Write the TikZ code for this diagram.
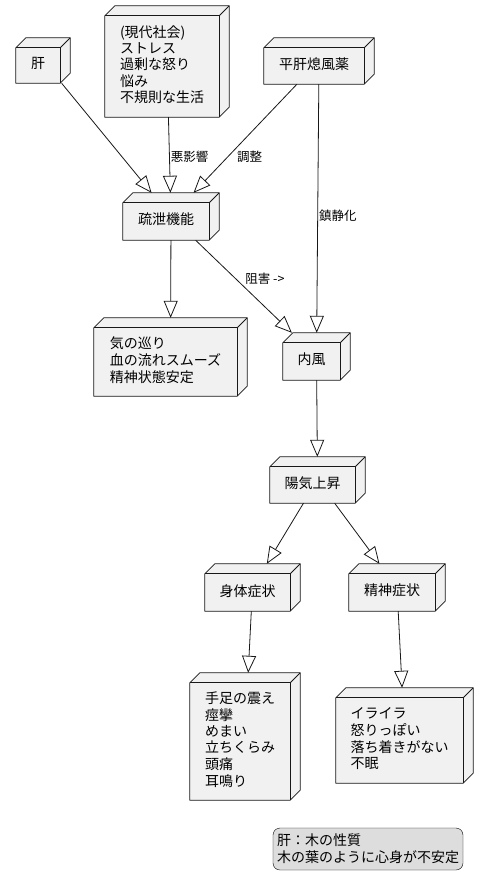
\documentclass[tikz,border=0pt]{standalone}
\usepackage{fontspec}
\setmainfont{Noto Sans CJK JP}
\usepackage{tikz}
\usetikzlibrary{arrows.meta, backgrounds, positioning}
\definecolor{facegray}{HTML}{F1F1F1}
\definecolor{linegray}{HTML}{181818}
\definecolor{legendgray}{HTML}{DDDDDD}
\newcommand{\boxtextfont}{\fontsize{14}{16}\selectfont}
\newcommand{\edgetextfont}{\fontsize{12.5}{14}\selectfont}
\newcommand{\facetext}[1]{\raisebox{-5pt}[\height][\depth]{\hspace*{-5pt}\begin{tabular}{@{}l@{}}#1\end{tabular}\hspace*{5pt}}}
\tikzset{
    boxnode/.style = {rectangle, inner sep=0em, node distance=0em, font=\boxtextfont},
    facepath/.style = {draw=linegray, fill=facegray, line width=0.8pt, line join=round},
    legendnode/.style = {draw=black, fill=legendgray, rectangle, rounded corners=7pt, inner xsep=3pt, 
      inner ysep=0pt, align=left, node distance=0em, font=\fontsize{14}{17}\selectfont},
    edgelabel/.style = {draw=none, fill=none, anchor=west, inner sep=1pt, font=\edgetextfont},
    connect/.style = {draw=linegray, line width=0.8pt, -{Triangle[open, length=17pt, width=14pt]}}
}

\begin{document}
\begin{tikzpicture}[x=1pt, y=-1pt, node distance=0em]
\useasboundingbox (0,0) rectangle (488,889);

\node[boxnode, name=liver, minimum width=54, minimum height=45] at (43,60.5) {\facetext{肝}};
\node[boxnode, name=society, right of = liver, xshift=124, yshift=-1, minimum width=124, minimum height=111] 
	{\facetext{(現代社会)\\ストレス\\過剰な怒り\\悩み\\不規則な生活}};
\node[boxnode, name=herb, right of = society, xshift=152, yshift=0.5, minimum width=110, minimum height=46] 
	{\facetext{平肝熄風薬}};

\node[boxnode, name=sooth, below of = society, xshift=4, yshift=-155, minimum width=96, minimum height=47] 
	{\facetext{疏泄機能}};
\node[boxnode, name=flow, below of = sooth, xshift=-0.5, yshift=-140.5, minimum width=153, minimum height=78] 
	{\facetext{気の巡り\\血の流れスムーズ\\精神状態安定}};
\node[boxnode, name=wind, below of = herb, xshift=-2.5, yshift=-295.5, minimum width=67, minimum height=47] 
	{\facetext{内風}};
\node[boxnode, name=yang, below of = wind, xshift=1, yshift=-123.5, minimum width=95, minimum height=46] 
	{\facetext{陽気上昇}};

\node[boxnode, name=body, below of = yang, xshift=-65, yshift=-107.5, minimum width=95, minimum height=47] 
	{\facetext{身体症状}};
\node[boxnode, name=mind, right of = body, xshift=144.5, minimum width=96, minimum height=47] 
	{\facetext{精神症状}};
\node[boxnode, name=bodysym, below of = body, xshift=-7.5, yshift=-149, minimum width=110, minimum height=127] 
	{\facetext{手足の震え\\痙攣\\めまい\\立ちくらみ\\頭痛\\耳鳴り}};
\node[boxnode, name=mindsym, below of = mind, xshift=7.5, yshift=-148, minimum width=137, minimum height=95] 
	{\facetext{イライラ\\怒りっぽい\\落ち着きがない\\不眠}};

\node[legendnode, name=legend, below of = mindsym, xshift=-36.5, yshift=-113.5, minimum width=190, minimum height=42] 
	{肝：木の性質\\木の葉のように心身が不安定};

\begin{scope}[on background layer]
\fill[white] (0,0) rectangle (488,889);
\foreach \n in {liver, society, herb, sooth, flow, wind, yang, body, mind, bodysym, mindsym} {
  \draw[facepath] (\n.south west) -- ([shift={(0,10)}]\n.north west) -- ([shift={(10,0)}]\n.north west) 
    -- (\n.north east) -- ([shift={(0,-10)}]\n.south east) -- ([shift={(-10,0)}]\n.south east) -- cycle;
  \draw[facepath, fill=none] ([shift={(0,10)}]\n.north west) -- ([shift={(-10,10)}]\n.north east) 
    -- ([shift={(-10,0)}]\n.south east);
  \draw[facepath, fill=none] ([shift={(-10,10)}]\n.north east) -- (\n.north east);
}
\end{scope}

\draw (liver) edge[connect] (sooth);
\draw (society) edge[connect] node[edgelabel, pos=0.52] {悪影響} (sooth);
\draw (herb) edge[connect] node[edgelabel, pos=0.67, xshift=8] {調整} (sooth);
\draw (herb) edge[connect] node[edgelabel, pos=0.53] {鎮静化} (wind);
\draw (sooth) edge[connect] (flow);
\draw (sooth) edge[connect] node[edgelabel, pos=0.42, xshift=8] {阻害 ->} (wind);
\draw (wind) edge[connect] (yang);
\draw (yang) edge[connect] (body);
\draw (yang) edge[connect] (mind);
\draw (body) edge[connect] (bodysym);
\draw (mind) edge[connect] (mindsym);
\end{tikzpicture}
\end{document}
